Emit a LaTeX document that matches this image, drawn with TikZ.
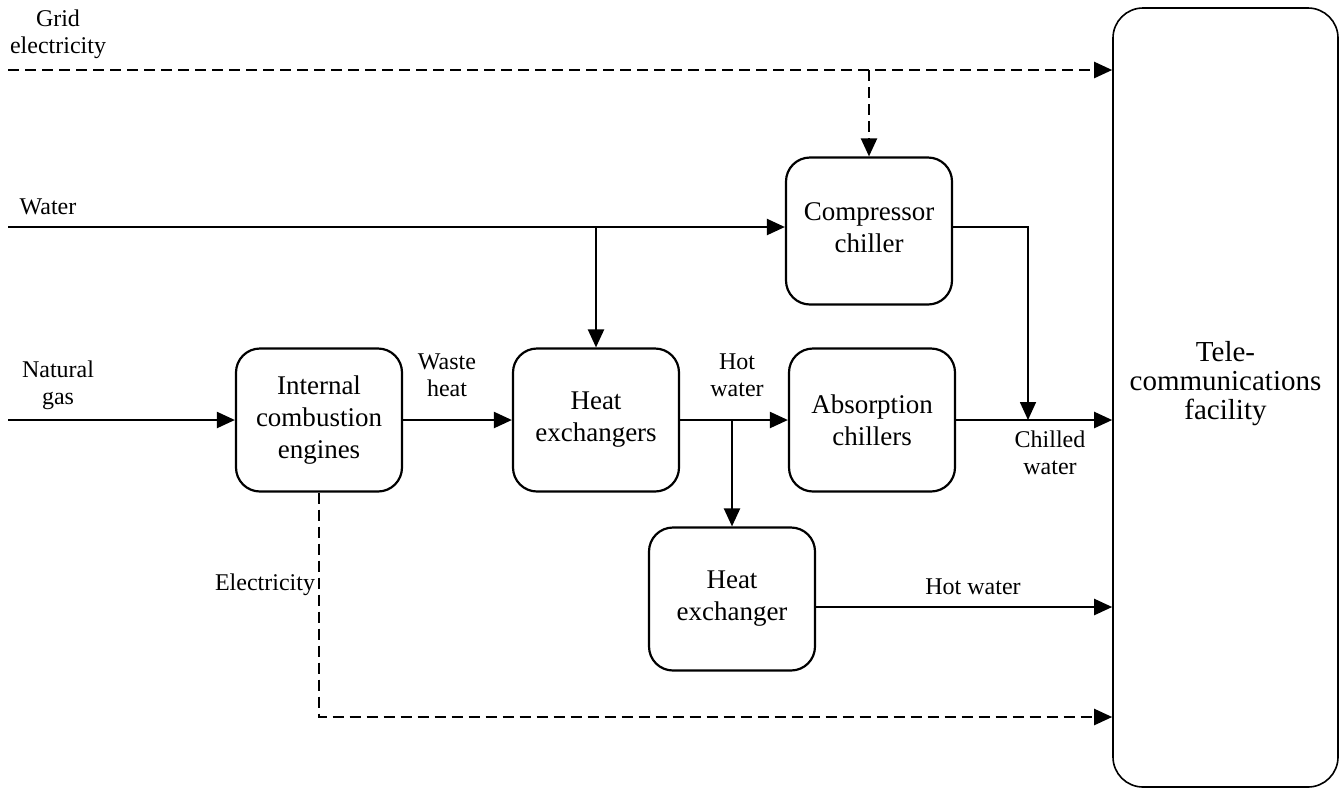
\documentclass[tikz,border=0pt]{standalone}
\usepackage{fontspec}
\setmainfont{Liberation Serif}
\usetikzlibrary{arrows.meta}

\begin{document}
\begin{tikzpicture}
  [x=0.5pt,y=-0.5pt,
unit/.style={draw,line width=1.1pt,rounded corners=12pt,minimum width=83pt,minimum height=71.5pt,
  inner sep=0pt,align=center,font=\fontsize{13.5}{16}\selectfont},
flow/.style={line width=1.1pt,-{Triangle[length=9pt,width=8pt]}},
elec/.style={flow,dash pattern=on 5.5pt off 3pt},
lbl/.style={align=center,inner sep=0pt,font=\fontsize{12}{13.5}\selectfont}]

\useasboundingbox (0,0) rectangle (1339,789);

  \coordinate (gridin) at (8,70);
  \coordinate (waterin) at (8,227);
  \coordinate (gasin) at (8,420);

  \node (comp) at (869,231) [unit,minimum height=73.5pt] {Compressor\\chiller\\[-13pt]};
  \node (ice) at (319,420) [unit] {Internal\\combustion\\engines};
  \node (hx) at (596,420) [unit] {Heat\\exchangers};
  \node (abs) at (872,420) [unit] {Absorption\\chillers};
  \node (hx2) at (732,599) [unit] {Heat\\exchanger};
  \node (fac) at (1225.5,397.5) [draw,line width=0.8pt,rounded corners=15pt,
    minimum width=112.5pt,minimum height=389.5pt] {};
  \node (factext) at ([yshift=7pt]fac.center) [align=center,inner sep=0pt,
    font=\fontsize{14.5}{14.5}\selectfont] {Tele-\\communications\\facility};

  \coordinate (cwjoin) at (1028,420);
  \coordinate (hwout) at (hx2.east |- 0,607);
  \coordinate (elout) at (fac.west |- 0,717);

% electricity
 \draw [elec] (gridin) -- (fac.west |- gridin);
 \draw [elec] (comp.north |- gridin) -- (comp.north);
 \draw [elec] (ice.south) |- (elout);

% water and heat
 \draw [flow] (waterin) -- (comp.west |- waterin);
 \draw [flow] (hx.north |- waterin) -- (hx.north);
 \draw [flow] (gasin) -- (ice.west |- gasin);
 \draw [flow] (ice.east) -- (hx.west);
 \draw [flow] (hx.east) -- (abs.west);
 \draw [flow] (hx2.north |- hx.east) -- (hx2.north);
 \draw [flow] (abs.east) -- (fac.west |- abs.east);
 \draw [flow,line width=0.8pt] (comp.east |- waterin) -| (cwjoin);
 \draw [flow] (hwout) -- (fac.west |- hwout);

\node at (58,34) [lbl] {Grid\\electricity};
\node at (48,207) [lbl] {Water};
\node at (58,385) [lbl] {Natural\\gas};
\node at (447,375) [lbl] {Waste\\heat};
\node at (737,375) [lbl] {Hot\\water};
\node at (1050,453) [lbl] {Chilled\\water};
\node at (973,587) [lbl] {Hot water};
\node at (265,585) [lbl] {Electricity};

\end{tikzpicture}
\end{document}
